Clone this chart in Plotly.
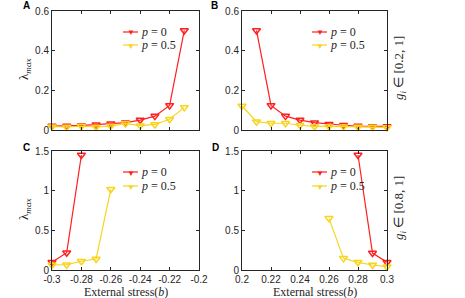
import plotly.graph_objects as go

# Panel A: b in [-0.3,-0.21], g in [0.2,1]
xa = [-0.30, -0.29, -0.28, -0.27, -0.26, -0.25, -0.24, -0.23, -0.22, -0.21]
a_p0 = [0.020, 0.020, 0.023, 0.027, 0.032, 0.037, 0.050, 0.070, 0.124, 0.502]
a_p05 = [0.017, 0.015, 0.020, 0.015, 0.020, 0.033, 0.022, 0.028, 0.054, 0.114]

# Panel B
xb_p0 = [0.21, 0.22, 0.23, 0.24, 0.25, 0.26, 0.27, 0.28, 0.29, 0.30]
b_p0 = [0.502, 0.124, 0.070, 0.050, 0.037, 0.029, 0.024, 0.020, 0.018, 0.018]
xb_p05 = [0.20, 0.21, 0.22, 0.23, 0.24, 0.25, 0.26, 0.27, 0.28, 0.29, 0.30]
b_p05 = [0.121, 0.042, 0.034, 0.034, 0.024, 0.018, 0.018, 0.017, 0.015, 0.015, 0.013]

# Panel C: g in [0.8,1]
xc_p0 = [-0.30, -0.29, -0.28]
c_p0 = [0.097, 0.218, 1.45]
xc_p05 = [-0.30, -0.29, -0.28, -0.27, -0.26]
c_p05 = [0.063, 0.067, 0.110, 0.139, 1.017]

# Panel D
xd_p0 = [0.28, 0.29, 0.30]
d_p0 = [1.45, 0.214, 0.097]
xd_p05 = [0.26, 0.27, 0.28, 0.29, 0.30]
d_p05 = [0.651, 0.147, 0.097, 0.063, 0.042]

RED = "#ff1f1f"
YEL = "#f7d51d"
AX = "#262626"
W, H = 465, 298

def px(x):
    return x / W

def py(y):
    return 1 - y / H

fig = go.Figure()

panels = [
    ("x", "y", xa, a_p0, xa, a_p05),
    ("x2", "y2", xb_p0, b_p0, xb_p05, b_p05),
    ("x3", "y3", xc_p0, c_p0, xc_p05, c_p05),
    ("x4", "y4", xd_p0, d_p0, xd_p05, d_p05),
]

for xr, yr, x0, y0, x5, y5 in panels:
    fig.add_trace(go.Scatter(x=x0, y=y0, xaxis=xr, yaxis=yr, mode="lines+markers",
                             line=dict(color=RED, width=1.2),
                             marker=dict(symbol="triangle-down-open", size=7, color=RED,
                                         line=dict(width=1.5, color=RED)),
                             showlegend=False, cliponaxis=False))
    fig.add_trace(go.Scatter(x=x5, y=y5, xaxis=xr, yaxis=yr, mode="lines+markers",
                             line=dict(color=YEL, width=1.2),
                             marker=dict(symbol="triangle-down-open", size=7, color=YEL,
                                         line=dict(width=1.5, color=YEL)),
                             showlegend=False, cliponaxis=False))

xl = [px(52), px(199)]
xr_ = [px(242), px(387)]
yt = [py(130), py(11)]
yb = [py(270), py(151)]

tickfont = dict(family="Liberation Sans, Arial, sans-serif", size=10, color=AX)
common = dict(showline=True, linecolor=AX, linewidth=1, mirror="ticks", ticks="inside",
              ticklen=3, tickcolor=AX, showgrid=False, zeroline=False, tickfont=tickfont,
              automargin=False)

negticks = [-0.3, -0.28, -0.26, -0.24, -0.22, -0.2]
negtext = ["-0.3", "-0.28", "-0.26", "-0.24", "-0.22", "-0.2"]
posticks = [0.2, 0.22, 0.24, 0.26, 0.28, 0.3]
postext = ["0.2", "0.22", "0.24", "0.26", "0.28", "0.3"]

fig.update_layout(
    width=W, height=H, margin=dict(l=0, r=0, t=0, b=0, pad=0, autoexpand=False),
    paper_bgcolor="white", plot_bgcolor="white", showlegend=False,
    xaxis=dict(domain=xl, range=[-0.3, -0.2], tickvals=negticks, showticklabels=False, anchor="y", **common),
    yaxis=dict(domain=yt, range=[0, 0.6], tickvals=[0, 0.2, 0.4, 0.6], ticktext=["0", "0.2", "0.4", "0.6"], anchor="x", **common),
    xaxis2=dict(domain=xr_, range=[0.2, 0.3], tickvals=posticks, showticklabels=False, anchor="y2", **common),
    yaxis2=dict(domain=yt, range=[0, 0.6], tickvals=[0, 0.2, 0.4, 0.6], ticktext=["0", "0.2", "0.4", "0.6"], anchor="x2", **common),
    xaxis3=dict(domain=xl, range=[-0.3, -0.2], tickvals=negticks, ticktext=negtext, anchor="y3", ticklabelstandoff=0, **common),
    yaxis3=dict(domain=yb, range=[0, 1.5], tickvals=[0, 0.5, 1, 1.5], ticktext=["0", "0.5", "1", "1.5"], anchor="x3", **common),
    xaxis4=dict(domain=xr_, range=[0.2, 0.3], tickvals=posticks, ticktext=postext, anchor="y4", ticklabelstandoff=0, **common),
    yaxis4=dict(domain=yb, range=[0, 1.5], tickvals=[0, 0.5, 1, 1.5], ticktext=["0", "0.5", "1", "1.5"], anchor="x4", **common),
)

serif = "Liberation Serif, Times New Roman, serif"
ann = []
# Panel letters
for txt, x, y in [("A", 26, 5), ("B", 214, 5), ("C", 26, 147), ("D", 215, 147)]:
    ann.append(dict(text="<b>%s</b>" % txt, x=px(x), y=py(y), xref="paper", yref="paper",
                    xanchor="center", yanchor="middle", showarrow=False,
                    font=dict(family="Liberation Sans, Arial", size=10, color="black")))
# y labels
for y in [70, 210]:
    ann.append(dict(text="λ<sub><i>max</i></sub>", x=px(24), y=py(y), xref="paper", yref="paper",
                    textangle=-90, xanchor="center", yanchor="middle", showarrow=False,
                    font=dict(family=serif, size=13, color=AX)))
# right labels
for y, t in [(68, "<i>g<sub>i</sub></i> ∈ [0.2, 1]"), (208, "<i>g<sub>i</sub></i> ∈ [0.8, 1]")]:
    ann.append(dict(text=t, x=px(399), y=py(y), xref="paper", yref="paper",
                    textangle=-90, xanchor="center", yanchor="middle", showarrow=False,
                    font=dict(family=serif, size=13, color=AX)))
# x labels
for x in [125.5, 314.5]:
    ann.append(dict(text="External stress(<i>b</i>)", x=px(x), y=py(292), xref="paper", yref="paper",
                    xanchor="center", yanchor="middle", showarrow=False,
                    font=dict(family=serif, size=12, color=AX)))

shapes = []
# legends
leg = [(123, 138, 32, 45), (123, 138, 172, 186), (312, 327, 32, 45), (312, 327, 172, 186)]
for x0, x1, yr, yy in leg:
    for yv, col, t in [(yr, RED, "<i>p</i> = 0"), (yy, YEL, "<i>p</i> = 0.5")]:
        shapes.append(dict(type="line", xref="paper", yref="paper", x0=px(x0), x1=px(x1),
                           y0=py(yv), y1=py(yv), line=dict(color=col, width=1.2)))
        ann.append(dict(text="▼", x=px((x0 + x1) / 2), y=py(yv), xref="paper", yref="paper",
                        xanchor="center", yanchor="middle", showarrow=False,
                        font=dict(size=8, color=col)))
        ann.append(dict(text=t, x=px(x1 + 1), y=py(yv), xref="paper", yref="paper",
                        xanchor="left", yanchor="middle", showarrow=False,
                        font=dict(family=serif, size=12, color=AX)))

fig.update_layout(annotations=ann, shapes=shapes)
fig.write_html("out.html", config={"displayModeBar": False},
               post_script="document.body.style.margin='0';document.body.style.overflow='hidden';")
